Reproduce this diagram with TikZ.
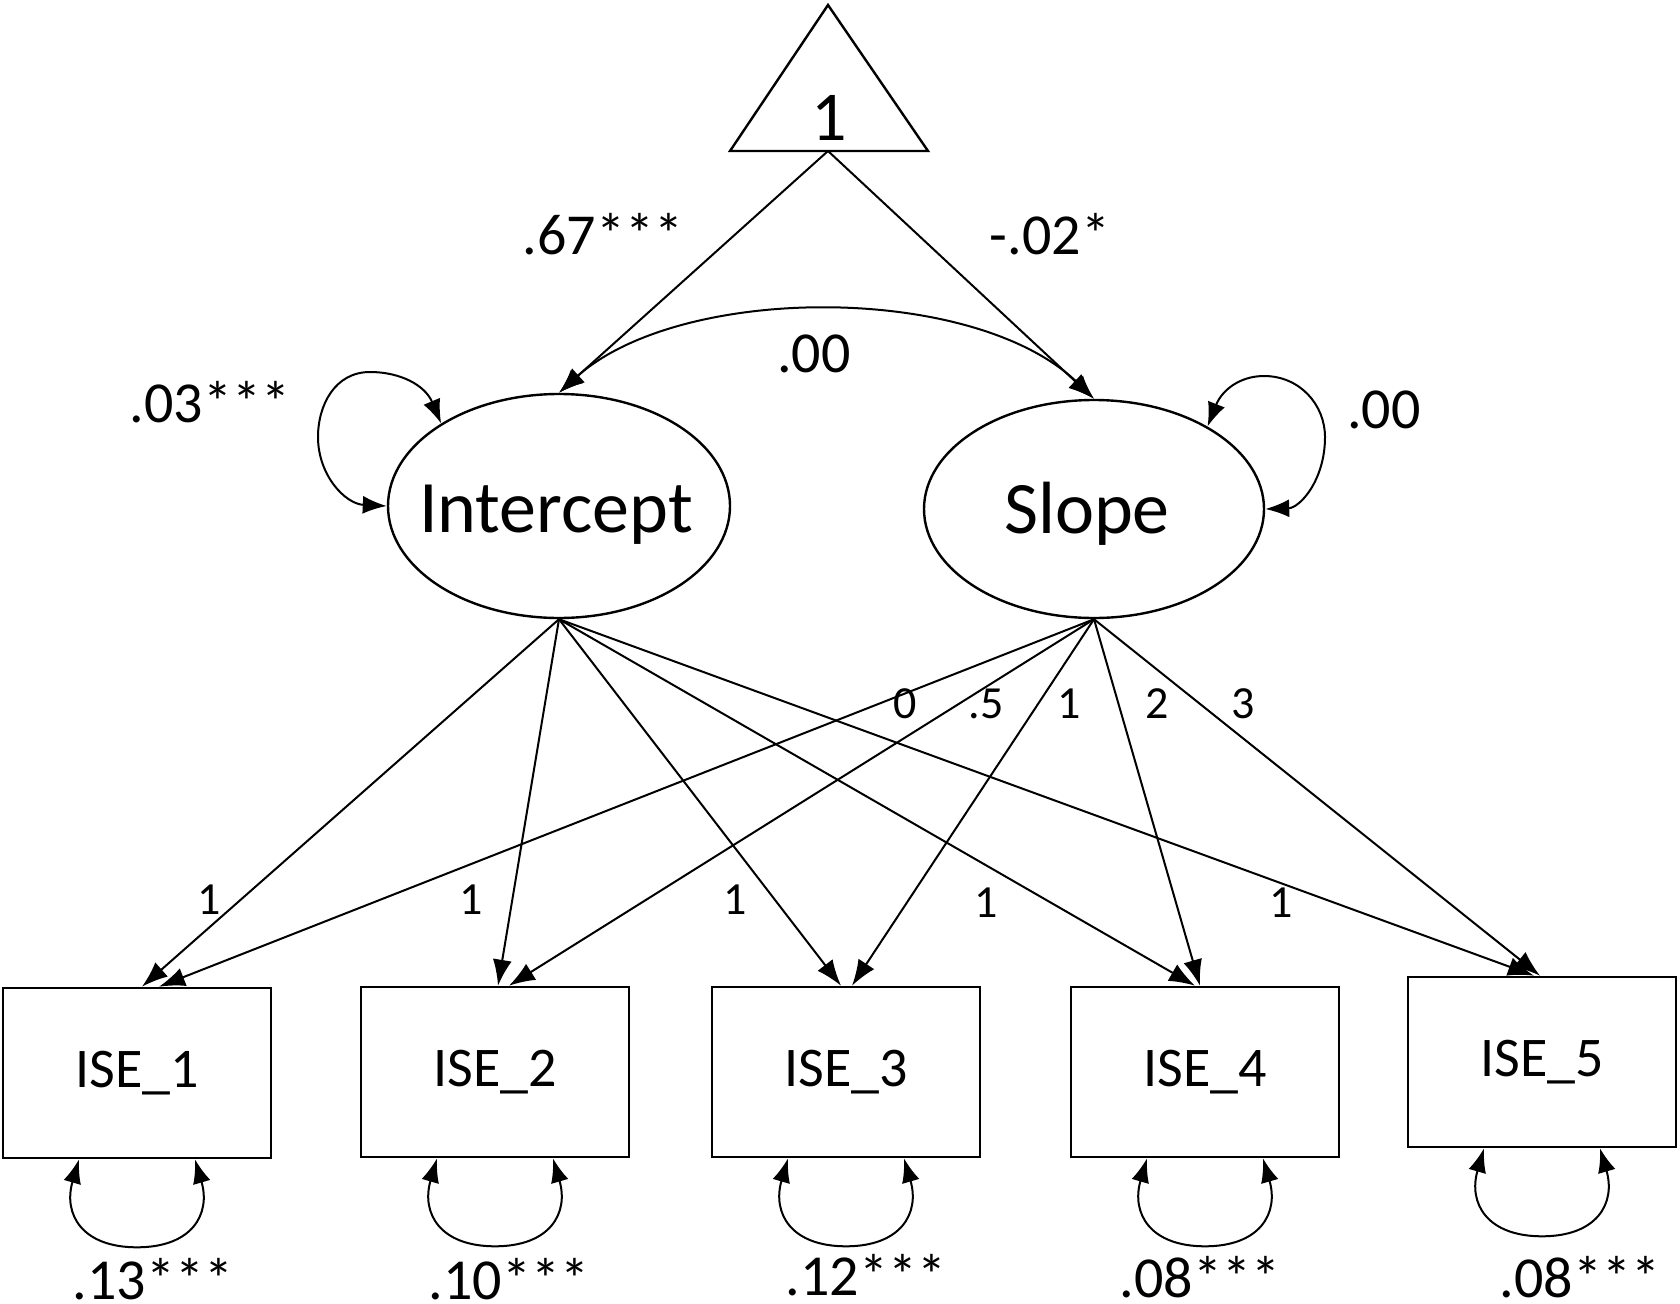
\documentclass[tikz,border=0pt]{standalone}
\usepackage{fontspec}
\setmainfont{Carlito}
\usetikzlibrary{arrows.meta,calc,shapes.geometric}
\begin{document}
\begin{tikzpicture}[x=1pt,y=-1pt,
  tip/.style={-{Latex[length=26pt,width=19pt]}},
  dtip/.style={{Latex[length=24pt,width=18pt]}-{Latex[length=24pt,width=18pt]}},
  conn/.style={line width=2pt},
  latent/.style={draw,ellipse,line width=2.4pt,minimum width=342pt,minimum height=224pt,inner sep=0pt},
  obs/.style={draw,rectangle,line width=2.6pt,minimum width=268pt,minimum height=170pt,inner sep=0pt,font=\fontsize{56}{60}\selectfont},
  big/.style={font=\fontsize{74}{80}\selectfont,inner sep=0pt},
  est/.style={font=\fontsize{58}{62}\selectfont,inner sep=0pt},
  load/.style={font=\fontsize{46}{50}\selectfont,inner sep=0pt}]
\useasboundingbox (0,0) rectangle (1680,1303);

% constant triangle
\draw[line width=2.4pt,line join=miter] (828,5) -- (928,151) -- (730,151) -- cycle;
\node[font=\fontsize{70}{74}\selectfont,inner sep=0pt] (one) at (829,118) {1};
\coordinate (const) at (828,151);

% latent factors
\node[latent] (int) at (559,506) {};
\node[big,anchor=base] (intl) at (556,532) {Intercept};
\node[latent,minimum width=340pt,minimum height=218pt] (slp) at (1094,509) {};
\node[big,anchor=base] (slpl) at (1087,533) {Slope};

% observed
\node[obs] (ise1) at (137,1073) {ISE\_1};
\node[obs] (ise2) at (495,1072) {ISE\_2};
\node[obs] (ise3) at (846,1072) {ISE\_3};
\node[obs] (ise4) at (1205,1072) {ISE\_4};
\node[obs] (ise5) at (1542,1062) {ISE\_5};

% means
\draw[conn,tip] (const) -- (int.north);
\draw[conn,tip] (const) -- (slp.north);
\node[est] (m1) at (603,234) {.67***};
\node[est] (m2) at (1050,234) {-.02*};

% covariance
\draw[conn,dtip] (int.north) .. controls (680,283) and (975,283) .. (slp.north);
\node[est] (cov) at (814,354) {.00};

% variances of factors
\draw[conn,dtip] (int.145) .. controls (425,385) and (400,372) .. (370,372)
  .. controls (335,372) and (318,405) .. (318,437)
  .. controls (318,475) and (345,504) .. (int.west);
\node[est] (vi) at (210,402) {.03***};
\draw[conn,dtip] (slp.36) .. controls (1222,390) and (1240,376) .. (1264,376)
  .. controls (1300,376) and (1325,405) .. (1325,437)
  .. controls (1325,480) and (1300,508) .. (slp.east);
\node[est] (vs) at (1384,410) {.00};

% loadings
\foreach \i/\a/\b in {1/5/22, 2/3/14, 3/-5/6, 4/-10/-5, 5/-8/-2} {
  \draw[conn,tip] (int.south) -- ($(ise\i.north)+(\a,0)$);
  \draw[conn,tip] (slp.south) -- ($(ise\i.north)+(\b,0)$);
}
\node[load] (li1) at (209,900) {1};
\node[load] (li2) at (471,900) {1};
\node[load] (li3) at (735,900) {1};
\node[load] (li4) at (986,903) {1};
\node[load] (li5) at (1281,903) {1};
\node[load] (ls1) at (905,704) {0};
\node[load] (ls2) at (986,704) {.5};
\node[load] (ls3) at (1069,704) {1};
\node[load] (ls4) at (1157,704) {2};
\node[load] (ls5) at (1243,704) {3};

% residual variances
\foreach \i in {1,...,5} {
  \draw[conn,dtip] ($(ise\i.south)+(-58,0)$) .. controls +(-16,55) and +(-55,0) .. ($(ise\i.south)+(0,88)$)
    .. controls +(55,0) and +(16,55) .. ($(ise\i.south)+(58,0)$);
}
\node[est] (r1) at (153,1279) {.13***};
\node[est] (r2) at (509,1279) {.10***};
\node[est] (r3) at (866,1275) {.12***};
\node[est] (r4) at (1200,1277) {.08***};
\node[est] (r5) at (1580,1277) {.08***};
\end{tikzpicture}
\end{document}
